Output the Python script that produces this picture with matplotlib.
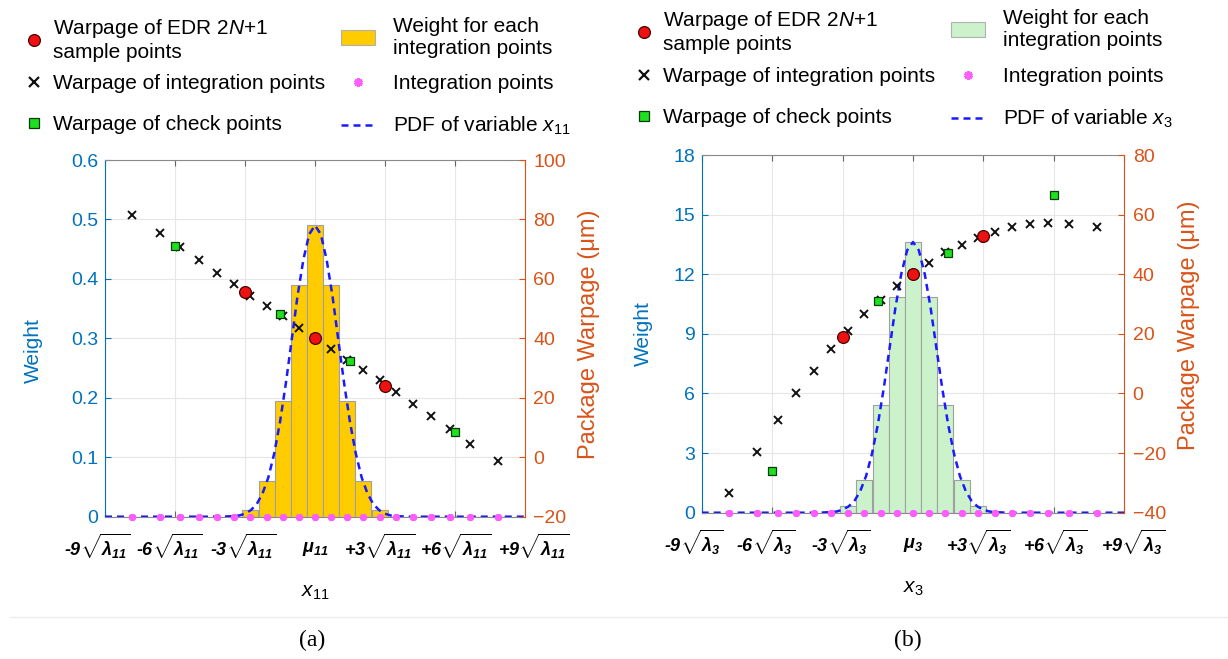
import matplotlib.pyplot as plt
from matplotlib.lines import Line2D
from matplotlib.patches import Patch
from matplotlib.transforms import ScaledTranslation

plt.rcParams['font.family'] = ['Liberation Sans', 'DejaVu Sans']
plt.rcParams['mathtext.fontset'] = 'custom'
plt.rcParams['mathtext.rm'] = 'Liberation Sans'
plt.rcParams['mathtext.it'] = 'Liberation Sans:italic'
plt.rcParams['mathtext.bf'] = 'Liberation Sans:italic:bold'

W, H = 1228, 659

# integration points, in units of sqrt(lambda) around the mean
nodes = [-7.85, -6.65, -5.77, -4.97, -4.21, -3.48, -2.77, -2.07, -1.37, -0.69, 0.0,
         0.69, 1.37, 2.07, 2.77, 3.48, 4.21, 4.97, 5.77, 6.65, 7.85]
node_level = [0.0] * len(nodes)

sample_x = [-3.0, 0.0, 3.0]
check_x = [-6.0, -1.5, 1.5, 6.0]

pdf_x = [-9, -4, -3.5, -3.25, -3, -2.75, -2.5, -2.25, -2, -1.75, -1.5, -1.25, -1, -0.75,
         -0.5, -0.25, 0, 0.25, 0.5, 0.75, 1, 1.25, 1.5, 1.75, 2, 2.25, 2.5, 2.75, 3, 3.25,
         3.5, 4, 9]

# (a) variable x11
weight_a = [0, 0, 0, 0, 0, 0, 0.012, 0.06, 0.195, 0.39, 0.49, 0.39, 0.195, 0.06, 0.012,
            0, 0, 0, 0, 0, 0]
warpage_a = [81.6, 75.6, 70.8, 66.4, 62.1, 58.3, 54.3, 50.8, 47.5, 43.6, 40.1, 36.5, 32.6,
             29.3, 25.9, 21.8, 17.9, 13.9, 9.6, 4.5, -1.1]
sample_a = [55.7, 40.1, 24.1]
check_a = [71.2, 48.1, 32.3, 8.6]
pdf_a = [0, 0, 0.001, 0.002, 0.005, 0.011, 0.021, 0.039, 0.066, 0.106, 0.159, 0.224, 0.297,
         0.371, 0.432, 0.475, 0.490, 0.475, 0.432, 0.371, 0.297, 0.224, 0.159, 0.106, 0.066,
         0.039, 0.021, 0.011, 0.005, 0.002, 0.001, 0, 0]

# (b) variable x3
weight_b = [0, 0, 0, 0, 0, 0, 0.32, 1.65, 5.42, 10.83, 13.62, 10.83, 5.42, 1.65, 0.32,
            0, 0, 0, 0, 0, 0]
warpage_b = [-33.4, -19.5, -8.9, 0.0, 7.7, 14.8, 20.9, 26.6, 31.3, 36.1, 40.1, 43.8, 47.3,
             49.7, 52.3, 54.1, 55.7, 56.8, 57.3, 57.0, 55.9]
sample_b = [18.9, 40.1, 52.9]
check_b = [-26.1, 31.0, 47.1, 66.6]
pdf_b = [0, 0, 0.03, 0.06, 0.15, 0.31, 0.58, 1.08, 1.84, 2.95, 4.42, 6.23, 8.26, 10.31,
         12.01, 13.20, 13.62, 13.20, 12.01, 10.31, 8.26, 6.23, 4.42, 2.95, 1.84, 1.08, 0.58,
         0.31, 0.15, 0.06, 0.03, 0, 0]

xticks = [-9, -6, -3, 0, 3, 6, 9]
# sideways nudge of each x tick label, pixels
xlabel_shift = [-8, -6, -2, 0, -5, 1, 9]

BLUE = '#0072BD'
ORANGE = '#D95319'
FS = 14


def xlabels(sub):
    labels = []
    for t in xticks:
        if t == 0:
            labels.append(r'$\mathbf{\mu_{%s}}$' % sub)
        else:
            labels.append(r'%+d$\sqrt{\mathbf{\lambda_{%s}}}$' % (t, sub))
    return labels


def panel(rect, weight, pdf, warpage, sample, check, bar_color, sub,
          wlim, wticks, wtick_labels, plim, pticks, wlabel_pos, plabel_pos):
    ax = fig.add_axes(rect)
    ax2 = ax.twinx()

    ax.bar(nodes, weight, width=0.686, color=bar_color, edgecolor='#a0a0a0', linewidth=0.8,
           zorder=2)
    ax.plot(pdf_x, pdf, color='#1a1aff', lw=1.8, ls=(0, (2.8, 2.0)), zorder=3)
    ax.plot(nodes, node_level, ls='none', marker=(6, 2, 0), ms=5, mew=2.2,
            color='#ff5cff', zorder=4, clip_on=False)

    ax2.plot(nodes, warpage, ls='none', marker='x', ms=6, mew=1.4, color='#111111', zorder=3)
    ax2.plot(check_x, check, ls='none', marker='s', ms=6, mew=0.9, mfc='#1ee01e',
             mec='#0a3a0a', zorder=4)
    ax2.plot(sample_x, sample, ls='none', marker='o', ms=8.5, mew=0.9, mfc='#ee1111',
             mec='#4a0000', zorder=5)

    ax.set_xlim(-9, 9)
    ax.set_ylim(*wlim)
    ax2.set_ylim(*plim)
    ax.set_xticks(xticks)
    ax.set_xticklabels(xlabels(sub), fontsize=13, fontweight='bold', fontstyle='italic')
    ax.set_yticks(wticks)
    ax.set_yticklabels(wtick_labels)
    ax2.set_yticks(pticks)

    ax.set_axisbelow(True)
    ax.grid(True, color='#e6e6e6', lw=0.8)

    ax.tick_params(axis='x', direction='in', length=4, top=True, color='#666666', pad=11)
    ax.tick_params(axis='y', direction='in', length=4, colors=BLUE, labelsize=FS, pad=5)
    ax2.tick_params(axis='y', direction='in', length=4, colors=ORANGE, labelsize=FS, pad=6)

    for tick, dx in zip(ax.xaxis.get_major_ticks(), xlabel_shift):
        lab = tick.label1
        # the mean label has no radical, so drop it to sit level with the others
        dy = -0.08 if lab.get_text().startswith(r'$\mathbf{\mu') else 0
        lab.set_transform(lab.get_transform()
                          + ScaledTranslation(dx / 100, dy, fig.dpi_scale_trans))

    for side in ['top', 'bottom']:
        ax.spines[side].set_color('#8a8a8a')
        ax2.spines[side].set_visible(False)
    ax.spines['left'].set_color(BLUE)
    ax.spines['right'].set_visible(False)
    ax2.spines['left'].set_visible(False)
    ax2.spines['right'].set_color(ORANGE)

    ax.set_ylabel('Weight', color=BLUE, fontsize=15)
    ax.yaxis.set_label_coords(*wlabel_pos)
    ax2.set_ylabel('Package Warpage (μm)', color=ORANGE, fontsize=17)
    ax2.yaxis.set_label_coords(*plabel_pos)
    ax.set_xlabel(r'$\mathit{x}_{%s}$' % sub, fontsize=15, labelpad=16)
    return ax, ax2


def legend_column(handles, labels, x, y_first, y_rest, **kw):
    # first entry has two text lines, the other two sit on their own grid
    common = dict(loc='upper left', frameon=False, fontsize=15, borderpad=0,
                  borderaxespad=0, labelspacing=1.05, handleheight=0.72)
    common.update(kw)
    fig.legend(handles[:1], labels[:1], bbox_to_anchor=(x / W, 1 - y_first / H), **common)
    fig.legend(handles[1:], labels[1:], bbox_to_anchor=(x / W, 1 - y_rest / H), **common)


def legends(x0, y0, y1, bar_color, sub):
    left_handles = [
        Line2D([], [], ls='none', marker='o', ms=8.5, mew=0.9, mfc='#ee1111', mec='#4a0000'),
        Line2D([], [], ls='none', marker='x', ms=7, mew=1.6, color='#111111'),
        Line2D([], [], ls='none', marker='s', ms=7, mew=0.9, mfc='#1ee01e', mec='#0a3a0a'),
    ]
    left_labels = ['Warpage of EDR 2$\\mathit{N}$+1\nsample points',
                   'Warpage of integration points',
                   'Warpage of check points']
    right_handles = [
        Patch(facecolor=bar_color, edgecolor='#b0b0b0', linewidth=0.8),
        Line2D([], [], ls='none', marker=(6, 2, 0), ms=6, mew=2.2, color='#ff5cff'),
        Line2D([], [], color='#1a1aff', lw=1.8, ls=(0, (2.8, 2.0))),
    ]
    right_labels = ['Weight for each\nintegration points',
                    'Integration points',
                    r'PDF of variable $\mathit{x}_{%s}$' % sub]
    legend_column(left_handles, left_labels, x0, y0, y1,
                  handlelength=0.95, handletextpad=0.45)
    legend_column(right_handles, right_labels, x0 + 317, y0, y1,
                  handlelength=1.65, handletextpad=0.85)


fig = plt.figure(figsize=(W / 100, H / 100), dpi=100)

panel([105 / W, 1 - 516.7 / H, 420 / W, 356.7 / H], weight_a, pdf_a, warpage_a, sample_a,
      check_a, '#ffcc00', '11', (0, 0.6), [0, 0.1, 0.2, 0.3, 0.4, 0.5, 0.6],
      ['0', '0.1', '0.2', '0.3', '0.4', '0.5', '0.6'], (-20, 100),
      [-20, 0, 20, 40, 60, 80, 100], (-0.148, 0.467), (1.126, 0.512))
panel([701.7 / W, 1 - 512.7 / H, 422.6 / W, 357.7 / H], weight_b, pdf_b, warpage_b,
      sample_b, check_b, '#ccf2cc', '3', (0, 18), [0, 3, 6, 9, 12, 15, 18],
      ['0', '3', '6', '9', '12', '15', '18'], (-40, 80),
      [-40, -20, 0, 20, 40, 60, 80], (-0.1145, 0.502), (1.127, 0.525))

legends(24, 17, 74, '#ffcc00', '11')
legends(634, 9, 67, '#ccf2cc', '3')

fig.add_artist(Line2D([0.008, 1.0], [1 - 617 / H, 1 - 617 / H], color='#ececec', lw=1))
fig.text(312 / W, 1 - 640 / H, '(a)', ha='center', va='center', fontsize=17,
         family='Liberation Serif')
fig.text(908 / W, 1 - 640 / H, '(b)', ha='center', va='center', fontsize=17,
         family='Liberation Serif')

fig.savefig('out.png', dpi=100)
